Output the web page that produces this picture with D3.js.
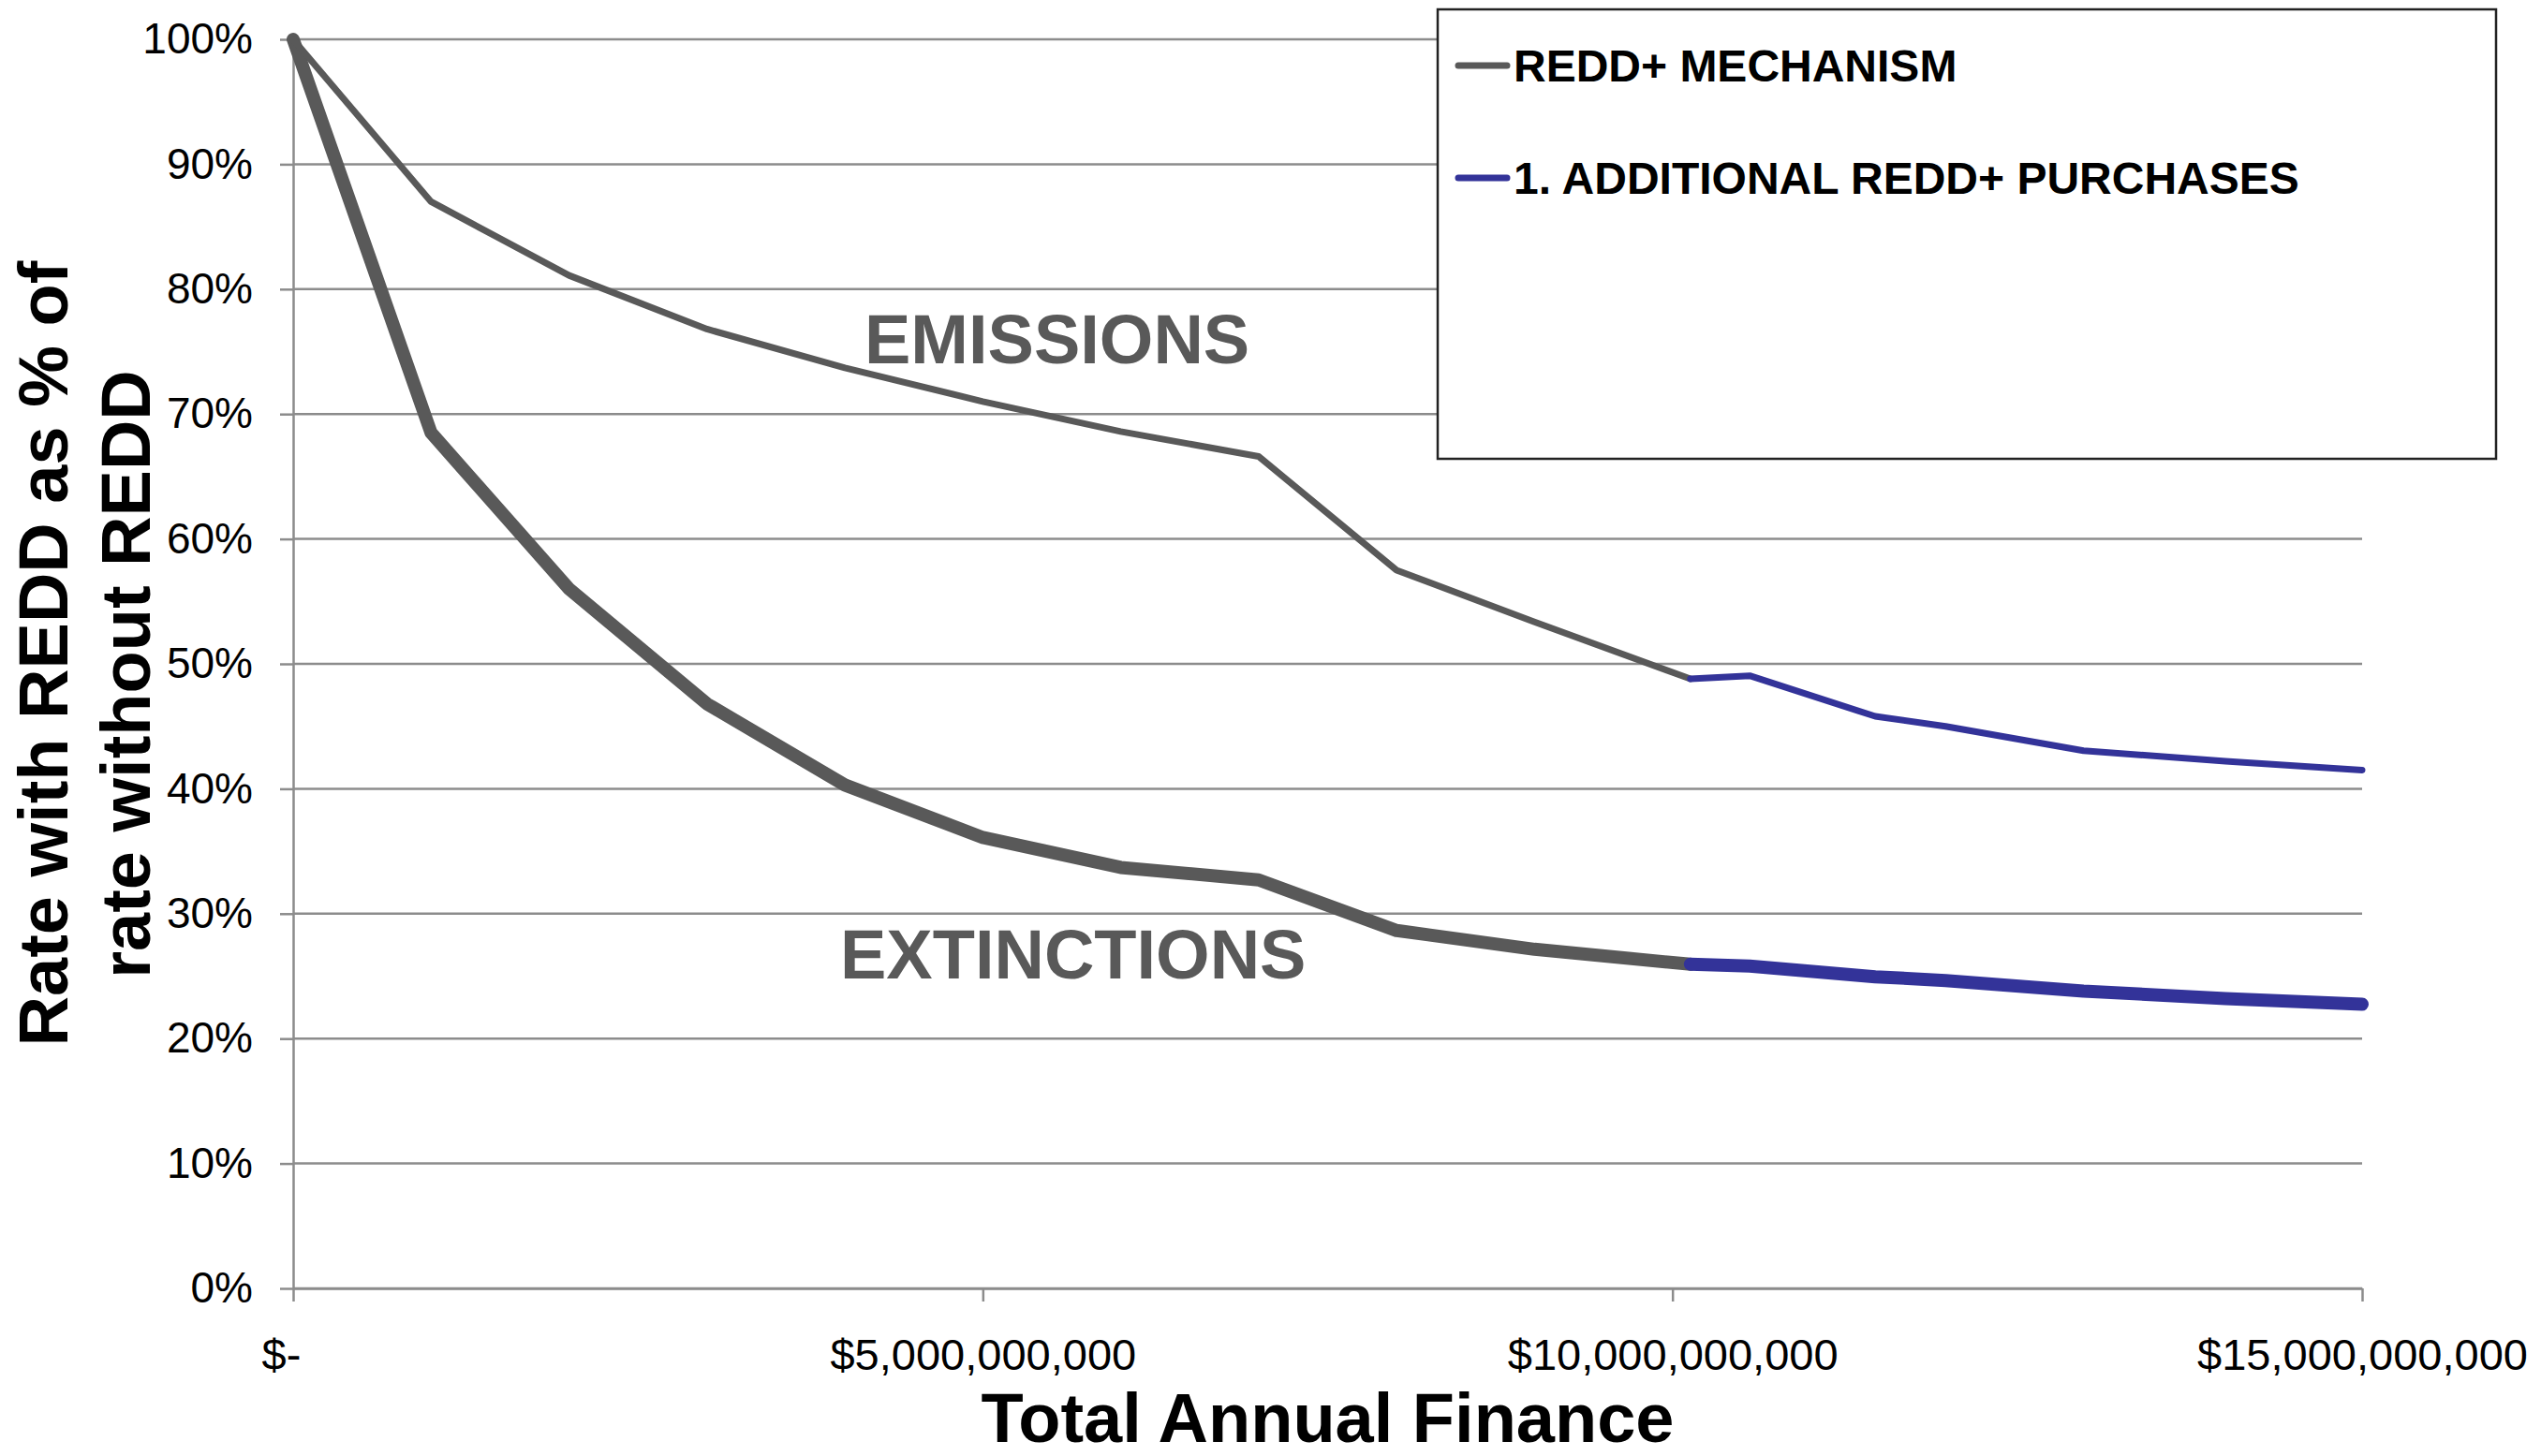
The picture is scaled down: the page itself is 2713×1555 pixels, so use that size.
<!DOCTYPE html>
<html>
<head>
<meta charset="utf-8">
<script src="https://cdn.jsdelivr.net/npm/d3@7/dist/d3.min.js"></script>
<style>
  html, body { margin: 0; padding: 0; background: #ffffff; }
  svg { display: block; font-family: "Liberation Sans", Arial, Helvetica, sans-serif; }
</style>
</head>
<body>
<svg id="chart" width="2713" height="1555"></svg>
<script>
// Total annual finance (US$) at each modelled point
const financeMechanism = [0, 1e9, 2e9, 3e9, 4e9, 5e9, 6e9, 7e9, 8e9, 9e9, 10.13e9];
const financePurchases = [10.13e9, 10.56e9, 11.47e9, 11.98e9, 12.98e9, 14.01e9, 15e9];

// Rate with REDD as % of rate without REDD
const emissionsMechanism   = [100, 87.0, 81.1, 76.8, 73.7, 71.0, 68.6, 66.6, 57.5, 53.35, 48.8];
const extinctionsMechanism = [100, 68.5, 56.0, 46.8, 40.3, 36.1, 33.7, 32.7, 28.65, 27.15, 25.95];
const emissionsPurchases   = [48.8, 49.05, 45.8, 45.0, 43.05, 42.2, 41.5];
const extinctionsPurchases = [25.95, 25.8, 24.95, 24.65, 23.8, 23.2, 22.75];

// Axis ticks and labels
const yTicks = [0, 10, 20, 30, 40, 50, 60, 70, 80, 90, 100];
const xTicks = [0, 5e9, 10e9, 15e9];
const seriesNames = ["REDD+ MECHANISM", "1. ADDITIONAL REDD+ PURCHASES"];
const curveLabels = ["EMISSIONS", "EXTINCTIONS"];
const xTitle = "Total Annual Finance";
const yTitleLines = ["Rate with REDD as % of", "rate without REDD"];

const GREY = "#595959";
const BLUE = "#333399";
const GRID = "#8c8c8c";

const svg = d3.select("#chart");
const plotLeft = 313, plotRight = 2522, plotTop = 42, plotBottom = 1376;

const x = d3.scaleLinear().domain([0, 15e9]).range([plotLeft, plotRight]);
const y = d3.scaleLinear().domain([0, 100]).range([plotBottom, plotTop]);

// Horizontal gridlines
svg.append("g").selectAll("line")
  .data(yTicks)
  .join("line")
  .attr("x1", plotLeft).attr("x2", plotRight)
  .attr("y1", d => y(d)).attr("y2", d => y(d))
  .attr("stroke", GRID).attr("stroke-width", 2.5);

// Y axis
const yAxis = svg.append("g")
  .attr("transform", `translate(${plotLeft},0)`)
  .call(d3.axisLeft(y).tickValues(yTicks).tickSize(14).tickSizeOuter(0).tickPadding(29)
        .tickFormat(d => d + "%"));
yAxis.select(".domain").attr("stroke", GRID).attr("stroke-width", 2.5);
yAxis.selectAll(".tick line").attr("stroke", GRID).attr("stroke-width", 2.5);
yAxis.selectAll(".tick text")
  .attr("fill", "#000").attr("font-size", 46).attr("font-family", "Liberation Sans, Arial, sans-serif");

// X axis
const xAxis = svg.append("g")
  .attr("transform", `translate(0,${plotBottom})`)
  .call(d3.axisBottom(x).tickValues(xTicks).tickSize(14).tickSizeOuter(0).tickPadding(40)
        .tickFormat(d => d === 0 ? "$-" : d3.format("$,")(d)));
xAxis.select(".domain").attr("stroke", GRID).attr("stroke-width", 2.5);
xAxis.selectAll(".tick line").attr("stroke", GRID).attr("stroke-width", 2.5);
xAxis.selectAll(".tick text")
  .attr("fill", "#000").attr("font-size", 47).attr("font-family", "Liberation Sans, Arial, sans-serif")
  .attr("dx", d => d === 0 ? -13 : 0);

// Curves
const line = d3.line().x(d => x(d[0])).y(d => y(d[1]));
const zip = (xs, ys) => xs.map((v, i) => [v, ys[i]]);

const curves = [
  { pts: zip(financeMechanism, extinctionsMechanism), color: GREY, w: 14 },
  { pts: zip(financePurchases, extinctionsPurchases), color: BLUE, w: 14 },
  { pts: zip(financeMechanism, emissionsMechanism),   color: GREY, w: 7 },
  { pts: zip(financePurchases, emissionsPurchases),   color: BLUE, w: 7 }
];
svg.append("g").selectAll("path")
  .data(curves)
  .join("path")
  .attr("d", d => line(d.pts))
  .attr("fill", "none")
  .attr("stroke", d => d.color)
  .attr("stroke-width", d => d.w)
  .attr("stroke-linejoin", "round")
  .attr("stroke-linecap", "round");

// Curve labels
svg.append("text").text(curveLabels[0])
  .attr("x", 923).attr("y", 388)
  .attr("font-size", 74).attr("font-weight", "bold").attr("fill", GREY);
svg.append("text").text(curveLabels[1])
  .attr("x", 897).attr("y", 1045)
  .attr("font-size", 74).attr("font-weight", "bold").attr("fill", GREY);

// Legend
const legend = svg.append("g");
legend.append("rect")
  .attr("x", 1535).attr("y", 10).attr("width", 1130).attr("height", 480)
  .attr("fill", "#fff").attr("stroke", "#222").attr("stroke-width", 2.5);
const legendColors = [GREY, BLUE];
const items = legend.selectAll("g.item")
  .data(seriesNames)
  .join("g").attr("class", "item")
  .attr("transform", (d, i) => `translate(0,${70 + i * 120})`);
items.append("line")
  .attr("x1", 1557).attr("x2", 1609).attr("y1", 0).attr("y2", 0)
  .attr("stroke", (d, i) => legendColors[i]).attr("stroke-width", 7).attr("stroke-linecap", "round");
items.append("text")
  .text(d => d)
  .attr("x", 1616).attr("y", 17)
  .attr("font-size", 48).attr("font-weight", "bold").attr("fill", "#000");

// Axis titles
svg.append("text").text(xTitle)
  .attr("x", (plotLeft + plotRight) / 2).attr("y", 1540)
  .attr("text-anchor", "middle")
  .attr("font-size", 74).attr("font-weight", "bold").attr("fill", "#000");

const yTitleCenters = [698, 720];
svg.append("g").selectAll("text")
  .data(yTitleLines)
  .join("text")
  .text(d => d)
  .attr("transform", (d, i) => `translate(${72 + i * 88},${yTitleCenters[i]}) rotate(-90)`)
  .attr("text-anchor", "middle")
  .attr("font-size", 74).attr("font-weight", "bold").attr("fill", "#000");
</script>
</body>
</html>
